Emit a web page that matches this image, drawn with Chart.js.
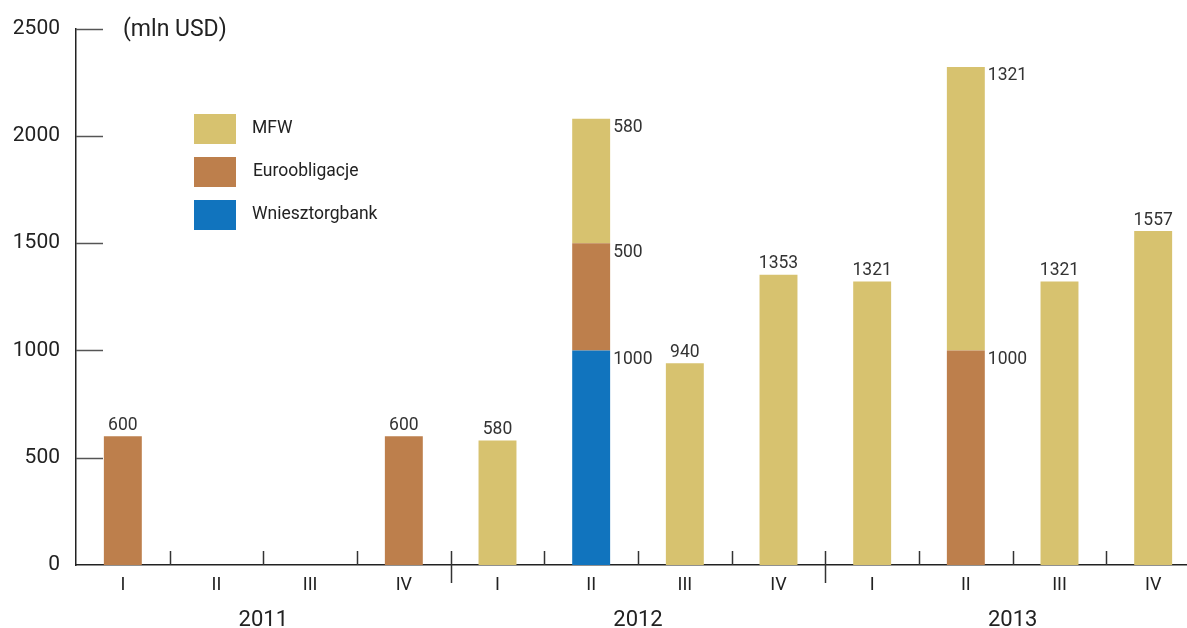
<!DOCTYPE html>
<html>
<head>
<meta charset="utf-8">
<script src="https://cdn.jsdelivr.net/npm/chart.js@4.4.1/dist/chart.umd.min.js"></script>
<style>
  body { margin: 0; background: #fff; overflow: hidden; }
  canvas { display: block; }
</style>
</head>
<body>
<canvas id="debtChart" width="1200" height="628"></canvas>
<script>
// quarters and years
const quarters = ["I", "II", "III", "IV", "I", "II", "III", "IV", "I", "II", "III", "IV"];
const years = ["2011", "2012", "2013"];

// values in mln USD
const mfw = [0, 0, 0, 0, 580, 580, 940, 1353, 1321, 1321, 1321, 1557];
const euroobligacje = [600, 0, 0, 600, 0, 500, 0, 0, 0, 1000, 0, 0];
const wniesztorgbank = [0, 0, 0, 0, 0, 1000, 0, 0, 0, 0, 0, 0];

const yTicks = [0, 500, 1000, 1500, 2000, 2500];

const FONT = "Roboto, 'Liberation Sans', sans-serif";
const TEXT = "#222";

const ctx = document.getElementById("debtChart");

// ticks, year labels, value labels, legend
const decorPlugin = {
  id: "decor",
  afterDatasetsDraw(chart) {
    const c = chart.ctx;
    const y = chart.scales.y;
    const area = chart.chartArea;
    const step = (area.right - area.left) / quarters.length;

    c.save();
    // y tick marks inside plot
    c.strokeStyle = "#555";
    c.lineWidth = 1.5;
    yTicks.forEach((v) => {
      if (v === 0) return;
      const py = Math.round(y.getPixelForValue(v)) + 0.5;
      c.beginPath();
      c.moveTo(area.left, py);
      c.lineTo(area.left + 27, py);
      c.stroke();
    });

    // x tick marks between quarters
    c.strokeStyle = "#333";
    for (let i = 1; i < quarters.length; i++) {
      const px = Math.round(area.left + i * step) + 0.5;
      c.beginPath();
      c.moveTo(px, area.bottom - 14);
      c.lineTo(px, i % 4 === 0 ? area.bottom + 18 : area.bottom);
      c.stroke();
    }

    // year labels
    c.fillStyle = TEXT;
    c.font = "22px " + FONT;
    c.textAlign = "center";
    c.textBaseline = "middle";
    years.forEach((yr, i) => {
      c.fillText(yr, area.left + (i * 4 + 2) * step, 620);
    });

    // unit
    c.textAlign = "left";
    c.font = "23px " + FONT;
    c.fillText("(mln USD)", 123, 30);

    // value labels
    c.font = "17.5px " + FONT;
    c.fillStyle = "#333";
    const sets = chart.data.datasets;
    quarters.forEach((q, i) => {
      const parts = [];
      const vals = [];
      sets.forEach((ds, di) => {
        if (ds.data[i] > 0) {
          parts.push(chart.getDatasetMeta(di).data[i]);
          vals.push(ds.data[i]);
        }
      });
      if (parts.length === 1) {
        const bar = parts[0];
        c.textAlign = "center";
        c.textBaseline = "bottom";
        c.fillText(String(vals[0]), bar.x, bar.y - 2);
      } else if (parts.length > 1) {
        parts.forEach((bar, k) => {
          c.textAlign = "left";
          c.textBaseline = "middle";
          c.fillText(String(vals[k]), bar.x + bar.width / 2 + 3, bar.y + 9);
        });
      }
    });

    // legend
    const legend = [sets[2], sets[1], sets[0]];
    c.font = "17.5px " + FONT;
    legend.forEach((ds, k) => {
      const top = 114 + k * 43;
      c.fillStyle = ds.backgroundColor;
      c.fillRect(194, top, 42, 30);
      c.fillStyle = TEXT;
      c.textAlign = "left";
      c.textBaseline = "middle";
      c.fillText(ds.label, 252 + (k === 1 ? 1 : 0), top + 15);
    });
    c.restore();
  },
};

new Chart(ctx, {
  type: "bar",
  data: {
    labels: quarters,
    datasets: [
      { label: "Wniesztorgbank", data: wniesztorgbank, backgroundColor: "#1174BE" },
      { label: "Euroobligacje", data: euroobligacje, backgroundColor: "#BD7F4C" },
      { label: "MFW", data: mfw, backgroundColor: "#D7C26F" },
    ],
  },
  options: {
    responsive: false,
    animation: false,
    layout: { padding: { top: 25, left: 0, right: 0, bottom: 0 } },
    datasets: { bar: { barPercentage: 0.405, categoryPercentage: 1 } },
    plugins: { legend: { display: false }, tooltip: { enabled: false } },
    scales: {
      x: {
        stacked: true,
        grid: { display: false, drawTicks: false },
        border: { display: true, color: "#222", width: 1.5 },
        ticks: { color: TEXT, font: { family: FONT, size: 18 }, padding: 10 },
        afterFit: (s) => { s.height = 63; },
      },
      y: {
        stacked: true,
        min: 0,
        max: 2500,
        grid: { display: false, drawTicks: false },
        border: { display: true, color: "#222", width: 1.5 },
        ticks: {
          stepSize: 500,
          color: TEXT,
          padding: 16,
          font: { family: FONT, size: 21 },
          callback: (v) => String(v),
        },
        afterFit: (s) => { s.width = 76; },
      },
    },
  },
  plugins: [decorPlugin],
});
</script>
</body>
</html>
